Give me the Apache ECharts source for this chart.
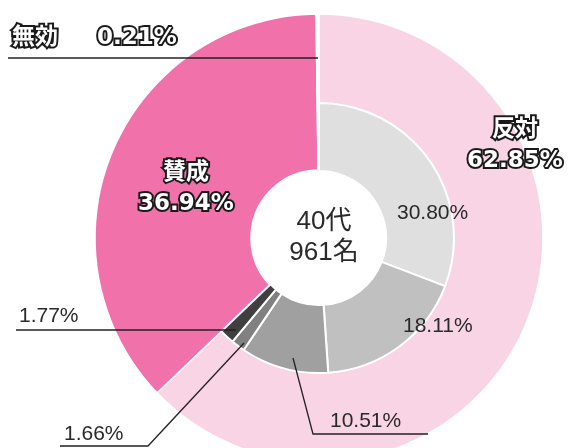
<!DOCTYPE html>
<html><head><meta charset="utf-8">
<script src="https://cdn.jsdelivr.net/npm/echarts@6/dist/echarts.min.js"></script>
<style>html,body{margin:0;padding:0;background:#fff}#c{width:585px;height:448px}</style>
</head><body><div id="c"></div>
<script>
// ---- data ----
const outerNames = ['反対', '賛成', '無効'];
const outerValues = [62.85, 36.94, 0.21];
const innerNames = ['反対-1', '反対-2', '反対-3', '反対-4', '反対-5'];
const innerValues = [30.80, 18.11, 10.51, 1.66, 1.77];
const centerLines = ['40代', '961名'];

// ---- styles ----
const outerColors = ['#f9d4e4', '#f172ab', '#ffffff'];
const innerColors = ['#dfdfdf', '#c0c0c0', '#a0a0a0', '#808080', '#3f3f3f'];
const CX = 319, CY = 238;

const outlineStyle = {
  fontFamily: '"DejaVu Sans", "Noto Sans CJK JP", sans-serif', fontWeight: 'bold', fontSize: 23,
  color: '#ffffff', textBorderColor: '#1a1a1a', textBorderWidth: 4, lineHeight: 31
};
const plainStyle = {
  fontFamily: '"Liberation Sans", Arial, sans-serif', fontSize: 21, color: '#2a2a2a'
};

// annotation placements (labels and leader lines)
const outerLayout = [
  { x: 515, y: 146, align: 'center' },
  { x: 186, y: 189, align: 'center' },
  { x: 12, y: 38, align: 'left' }
];
const innerLayout = [
  { x: 397, y: 213 },
  { x: 403, y: 326 },
  { x: 330, y: 421 },
  { x: 64, y: 434 },
  { x: 19, y: 316 }
];
const leaderLines = [
  [[8, 58], [318, 58]],
  [[293, 358], [313, 434], [428, 434]],
  [[244, 343], [148, 446], [60, 446]],
  [[16, 330], [236, 330]]
];

const pct = v => v.toFixed(2) + '%';
const layoutFn = arr => params => {
  const L = arr[params.dataIndex];
  if (!L) return {};
  return { x: L.x, y: L.y, align: L.align || 'left', verticalAlign: 'middle' };
};

const outerData = outerNames.map((n, i) => ({
  name: n, value: outerValues[i],
  itemStyle: { color: outerColors[i] },
  label: Object.assign({ show: true,
    formatter: i === 2 ? (n + '\u3000  ' + pct(outerValues[i])) : (n + '\n' + pct(outerValues[i]))
  }, outlineStyle),
  labelLine: { show: false }
}));

const innerTotal = innerValues.reduce((a, b) => a + b, 0);
const restTotal = outerValues.reduce((a, b) => a + b, 0) - innerTotal;
const innerData = innerNames.map((n, i) => ({
  name: n, value: innerValues[i],
  itemStyle: { color: innerColors[i] },
  label: Object.assign({ show: true, formatter: pct(innerValues[i]) }, plainStyle),
  labelLine: { show: false }
}));
innerData.push({
  name: 'rest', value: restTotal,
  itemStyle: { color: 'rgba(0,0,0,0)', borderWidth: 0 },
  label: { show: false }, labelLine: { show: false },
  emphasis: { disabled: true }, tooltip: { show: false }
});

const chart = echarts.init(document.getElementById('c'), null, { renderer: 'canvas' });
chart.setOption({
  animation: false,
  backgroundColor: '#ffffff',
  title: {
    text: centerLines.join('\n'),
    left: CX, top: CY - 37, textAlign: 'center',
    textStyle: {
      fontFamily: '"Liberation Sans", "Noto Sans CJK JP", sans-serif', fontWeight: 'normal',
      fontSize: 26, color: '#2a2a2a', lineHeight: 31
    }
  },
  graphic: leaderLines.map(pts => ({
    type: 'polyline', z: 100, silent: true,
    shape: { points: pts },
    style: { stroke: '#222', lineWidth: 1.3, fill: null }
  })),
  series: [
    {
      type: 'pie', center: [CX, CY], radius: [68, 224], startAngle: 90, clockwise: true,
      avoidLabelOverlap: false, silent: true, z: 2,
      itemStyle: { borderColor: '#ffffff', borderWidth: 1.5 },
      label: { position: 'outside' },
      labelLayout: layoutFn(outerLayout),
      data: outerData
    },
    {
      type: 'pie', center: [CX, CY], radius: [67, 135], startAngle: 90, clockwise: true,
      avoidLabelOverlap: false, silent: true, z: 3,
      itemStyle: { borderColor: '#ffffff', borderWidth: 2 },
      label: { position: 'outside' },
      labelLayout: layoutFn(innerLayout),
      data: innerData
    }
  ]
});
</script>
</body></html>
